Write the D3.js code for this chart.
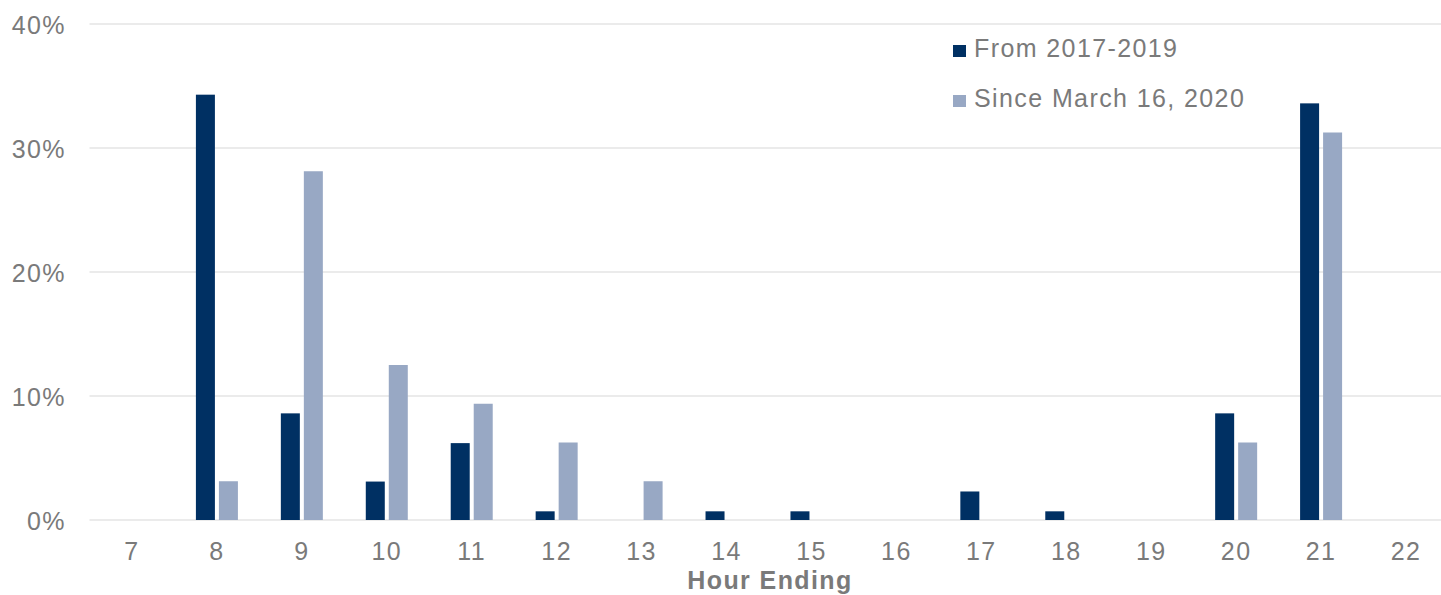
<!DOCTYPE html>
<html>
<head>
<meta charset="utf-8">
<script src="https://cdn.jsdelivr.net/npm/d3@7"></script>
<style>
  html, body { margin: 0; padding: 0; background: #fff; }
  svg { display: block; font-family: "Liberation Sans", Arial, sans-serif; }
</style>
</head>
<body>
<svg id="chart" width="1441" height="595"></svg>
<script>
// Hour-ending categories and share of days in each hour
const hours = [7, 8, 9, 10, 11, 12, 13, 14, 15, 16, 17, 18, 19, 20, 21, 22];
const seriesNames = ["From 2017-2019", "Since March 16, 2020"];
const from2017 = [0, 34.3, 8.6, 3.1, 6.2, 0.7, 0, 0.7, 0.7, 0, 2.3, 0.7, 0, 8.6, 33.6, 0];
const since2020 = [0, 3.125, 28.125, 12.5, 9.375, 6.25, 3.125, 0, 0, 0, 0, 0, 0, 6.25, 31.25, 0];
const yTicks = [0, 10, 20, 30, 40];
const colors = ["#003063", "#98a8c4"];

const svg = d3.select("#chart");
const margin = { left: 89.5, right: -7.5, top: 24, bottom: 75 };
const W = 1441, H = 595;
const FS = 25, LS = "1.4px", TXT = "#7a7a7a";

const x = d3.scaleBand()
  .domain(hours)
  .range([margin.left, W - margin.right])
  .paddingInner(0).paddingOuter(0);

const y = d3.scaleLinear()
  .domain([0, 40])
  .range([H - margin.bottom, margin.top]);

const barW = 19, gap = 4;

// Gridlines
svg.append("g")
  .selectAll("line")
  .data(yTicks)
  .join("line")
  .attr("x1", margin.left)
  .attr("x2", W)
  .attr("y1", d => y(d))
  .attr("y2", d => y(d))
  .attr("stroke", "#e4e4e4")
  .attr("stroke-width", 1.3);

// Y axis labels
const yAxis = d3.axisLeft(y).tickValues(yTicks).tickFormat(d => d + "%").tickSize(0).tickPadding(0);
svg.append("g")
  .attr("transform", `translate(66,0)`)
  .call(yAxis)
  .call(g => g.select(".domain").remove())
  .call(g => g.selectAll("text")
    .attr("fill", TXT)
    .attr("font-size", FS)
    .attr("letter-spacing", LS)
    .attr("font-family", "Liberation Sans, Arial, sans-serif")
    .attr("dy", "0.36em"));

// X axis labels
const xAxis = d3.axisBottom(x).tickSize(0).tickPadding(0);
svg.append("g")
  .attr("transform", `translate(0,${y(0)})`)
  .call(xAxis)
  .call(g => g.select(".domain").remove())
  .call(g => g.selectAll("text")
    .attr("fill", TXT)
    .attr("font-size", FS)
    .attr("letter-spacing", LS)
    .attr("font-family", "Liberation Sans, Arial, sans-serif")
    .attr("y", 40)
    .attr("dy", 0));

// Bars
const series = [from2017, since2020];
series.forEach((vals, si) => {
  svg.append("g")
    .selectAll("rect")
    .data(hours.map((h, i) => ({ h, v: vals[i] })).filter(d => d.v > 0))
    .join("rect")
    .attr("x", d => x(d.h) + x.bandwidth() / 2 + (si === 0 ? -(barW + gap / 2) : gap / 2))
    .attr("width", barW)
    .attr("y", d => y(d.v))
    .attr("height", d => y(0) - y(d.v))
    .attr("fill", colors[si]);
});

// X axis title
svg.append("text")
  .attr("x", 770)
  .attr("y", 589)
  .attr("text-anchor", "middle")
  .attr("font-size", FS)
  .attr("letter-spacing", LS)
  .attr("font-weight", "bold")
  .attr("fill", TXT)
  .text("Hour Ending");

// Legend
const legend = svg.append("g").attr("transform", "translate(953,0)");
seriesNames.forEach((name, i) => {
  const base = 57 + i * 50;
  legend.append("rect")
    .attr("x", 0).attr("y", base - 12)
    .attr("width", 13).attr("height", 12)
    .attr("fill", colors[i]);
  legend.append("text")
    .attr("x", 21).attr("y", base)
    .attr("font-size", FS)
    .attr("letter-spacing", LS)
    .attr("fill", TXT)
    .text(name);
});
</script>
</body>
</html>
